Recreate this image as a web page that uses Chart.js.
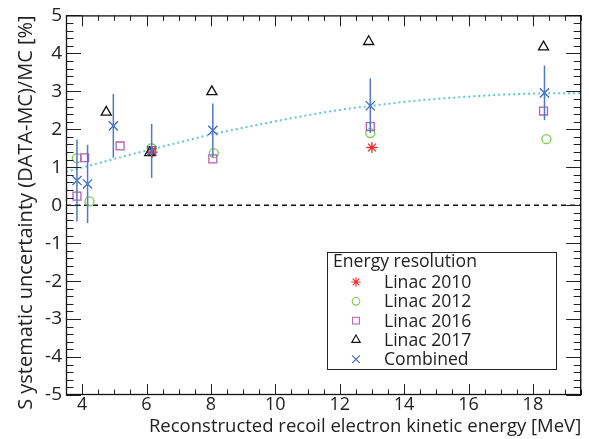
<!DOCTYPE html>
<html>
<head>
<meta charset="utf-8">
<script src="https://cdn.jsdelivr.net/npm/chart.js@4.4.1/dist/chart.umd.min.js"></script>
<style>
  html, body { margin: 0; padding: 0; background: #ffffff; }
  #wrap { width: 589px; height: 439px; position: relative; }
</style>
</head>
<body>
<div id="wrap"><canvas id="c" width="589" height="439"></canvas></div>
<script>
// ---------------- data ----------------
const xMin = 3.5, xMax = 19.5, yMin = -5, yMax = 5;
const xTickValues = [4, 6, 8, 10, 12, 14, 16, 18];
const yTickValues = [-5, -4, -3, -2, -1, 0, 1, 2, 3, 4, 5];

const linac2010X = [6.18, 13.0];
const linac2010Y = [1.40, 1.52];

const linac2012X = [3.84, 4.23, 6.16, 8.09, 12.95, 18.42];
const linac2012Y = [1.24, 0.10, 1.50, 1.37, 1.90, 1.74];

const linac2016X = [3.84, 4.08, 5.18, 6.16, 8.06, 12.95, 18.33];
const linac2016Y = [0.24, 1.25, 1.56, 1.44, 1.22, 2.07, 2.48];

const linac2017X = [4.75, 6.10, 8.03, 12.90, 18.33];
const linac2017Y = [2.45, 1.38, 2.99, 4.31, 4.17];

const combinedX   = [3.84, 4.17, 4.97, 6.16, 8.06, 12.95, 18.36];
const combinedY   = [0.65, 0.56, 2.09, 1.43, 1.97, 2.62, 2.96];
const combinedErr = [1.08, 1.03, 0.84, 0.71, 0.71, 0.72, 0.72];

const fitX = [3.5, 4, 5, 6, 7, 8, 9, 10, 11, 12, 13, 14, 15, 16, 17, 18, 19, 19.5];
const fitY = [0.88, 0.99, 1.22, 1.44, 1.65, 1.86, 2.04, 2.21, 2.37, 2.51, 2.62, 2.72, 2.80, 2.86, 2.91, 2.94, 2.95, 2.95];

const zeroLineX = [xMin, xMax];
const zeroLineY = [0, 0];

const legendTitle = "Energy resolution";
const xTitle = "Reconstructed recoil electron kinetic energy [MeV]";
const yTitle = "S ystematic uncertainty (DATA-MC)/MC [%]";

// ---------------- helpers ----------------
const pts = (xs, ys) => xs.map((x, i) => ({ x: x, y: ys[i] }));
const FONT = "'Open Sans', 'DejaVu Sans', sans-serif";

const COL_RED = '#ee2a2a', COL_GREEN = '#7ccc48', COL_MAG = '#b45fb4', COL_BLK = '#111111', COL_BLUE = '#3d66c4', COL_BAR = '#5078c8', COL_CYAN = '#62c6d8';

// inward ticks on all four sides + frame
const frameTicks = {
  id: 'frameTicks',
  afterDraw(chart) {
    const { ctx, chartArea: a, scales: { x, y } } = chart;
    ctx.save();
    ctx.strokeStyle = '#222';
    ctx.lineWidth = 1;
    const line = (x1, y1, x2, y2) => { ctx.beginPath(); ctx.moveTo(x1, y1); ctx.lineTo(x2, y2); ctx.stroke(); };
    for (let v = xMin; v <= xMax + 1e-9; v += 0.5) {
      const px = Math.round(x.getPixelForValue(v)) + 0.5;
      const major = Math.abs(v / 2 - Math.round(v / 2)) < 1e-9;
      const L = major ? 11 : 5.5;
      line(px, a.bottom, px, a.bottom - L);
      line(px, a.top, px, a.top + L);
    }
    for (let k = 0; k <= 50; k++) {
      const v = yMin + k * 0.2;
      const py = Math.round(y.getPixelForValue(v)) + 0.5;
      const major = k % 5 === 0;
      const L = major ? 15 : 7.5;
      line(a.left, py, a.left + L, py);
      line(a.right, py, a.right - L, py);
    }
    ctx.lineWidth = 1.3;
    ctx.strokeStyle = '#111';
    ctx.strokeRect(a.left + 0.5, a.top + 0.5, a.right - a.left - 1, a.bottom - a.top - 1);
    ctx.restore();
  }
};

// vertical error bars on the Combined points
const errorBars = {
  id: 'errorBars',
  afterDatasetsDraw(chart) {
    const { ctx, scales: { x, y } } = chart;
    ctx.save();
    ctx.strokeStyle = COL_BAR;
    ctx.lineWidth = 1.5;
    combinedX.forEach((cx, i) => {
      const px = x.getPixelForValue(cx);
      ctx.beginPath();
      ctx.moveTo(px, y.getPixelForValue(combinedY[i] + combinedErr[i]));
      ctx.lineTo(px, y.getPixelForValue(combinedY[i] - combinedErr[i]));
      ctx.stroke();
    });
    ctx.restore();
  }
};

// ROOT-like legend box inside the plot
const boxLegend = {
  id: 'boxLegend',
  afterDraw(chart) {
    const { ctx } = chart;
    const bx = 327.5, by = 252.5, bw = 229, bh = 117;
    ctx.save();
    ctx.fillStyle = '#fff';
    ctx.fillRect(bx, by, bw, bh);
    ctx.strokeStyle = '#222';
    ctx.lineWidth = 1;
    ctx.strokeRect(bx, by, bw, bh);
    ctx.fillStyle = '#222';
    ctx.textBaseline = 'middle';
    ctx.textAlign = 'left';
    ctx.font = "17.6px " + FONT;
    ctx.fillText(legendTitle, 333, 262);
    const entries = chart.data.datasets.filter(d => d.inLegend).sort((a, b) => a.legendRank - b.legendRank);
    entries.forEach((d, i) => {
      const ry = 282 + i * 19.3;
      ctx.fillStyle = '#222';
      ctx.fillText(d.label, 384, ry + 1);
      ctx.strokeStyle = d.borderColor;
      ctx.fillStyle = 'rgba(0,0,0,0)';
      ctx.lineWidth = 1.1;
      Chart.helpers.drawPoint(ctx, { pointStyle: d.pointStyle, radius: d.pointRadius * 0.85, borderWidth: 1.1, rotation: 0 }, 356, ry);
    });
    ctx.restore();
  }
};

const scatterDS = (label, xs, ys, style, color, r, rank, order) => ({
  type: 'scatter', label, data: pts(xs, ys), pointStyle: style, pointRadius: r, pointHoverRadius: r,
  borderColor: color, backgroundColor: 'rgba(0,0,0,0)', borderWidth: 1.3, showLine: false,
  inLegend: true, legendRank: rank, order
});

const chart = new Chart(document.getElementById('c'), {
  type: 'scatter',
  data: {
    datasets: [
      scatterDS('Combined', combinedX, combinedY, 'crossRot', COL_BLUE, 6.5, 5, 1),
      scatterDS('Linac 2017', linac2017X, linac2017Y, 'triangle', COL_BLK, 5.8, 4, 2),
      scatterDS('Linac 2010', linac2010X, linac2010Y, 'star', COL_RED, 5.5, 1, 3),
      scatterDS('Linac 2016', linac2016X, linac2016Y, 'rect', COL_MAG, 5.6, 3, 4),
      scatterDS('Linac 2012', linac2012X, linac2012Y, 'circle', COL_GREEN, 4.5, 2, 5),
      {
        type: 'line', label: 'fit', data: pts(fitX, fitY), borderColor: COL_CYAN, borderWidth: 2,
        borderDash: [2, 3], pointRadius: 0, cubicInterpolationMode: 'monotone', fill: false, order: 6
      },
      {
        type: 'line', label: 'zero', data: pts(zeroLineX, zeroLineY), borderColor: '#111', borderWidth: 1.5,
        borderDash: [5, 4], pointRadius: 0, fill: false, order: 7
      }
    ]
  },
  options: {
    responsive: false,
    animation: false,
    devicePixelRatio: 1,
    layout: { padding: { top: 15, right: 2, left: 0, bottom: 0 } },
    plugins: { legend: { display: false }, tooltip: { enabled: false } },
    scales: {
      x: {
        type: 'linear', min: xMin, max: xMax,
        grid: { display: false, drawTicks: false },
        border: { display: false },
        afterBuildTicks: s => { s.ticks = xTickValues.map(v => ({ value: v })); },
        afterFit: s => { s.height = 44; },
        ticks: { color: '#222', font: { family: FONT, size: 18 }, padding: -1, maxRotation: 0, autoSkip: false },
        title: { display: true, text: xTitle, align: 'end', color: '#222', font: { family: FONT, size: 18.5 }, padding: { top: 0, bottom: 1 } }
      },
      y: {
        type: 'linear', min: yMin, max: yMax,
        grid: { display: false, drawTicks: false },
        border: { display: false },
        afterBuildTicks: s => { s.ticks = yTickValues.map(v => ({ value: v })); },
        afterFit: s => { s.width = 66; },
        ticks: { color: '#222', font: { family: FONT, size: 19 }, padding: 4, autoSkip: false },
        title: { display: true, text: yTitle, align: 'end', color: '#222', font: { family: FONT, size: 20 }, padding: { top: 14, bottom: 0 } }
      }
    }
  },
  plugins: [errorBars, frameTicks, boxLegend]
});
</script>
</body>
</html>
